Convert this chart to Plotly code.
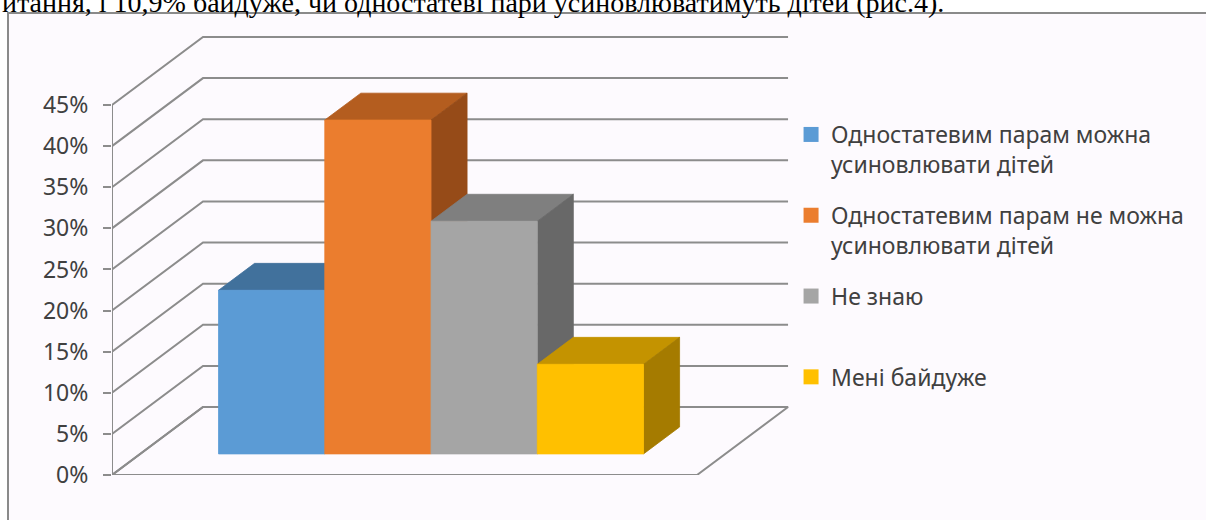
import plotly.graph_objects as go

# ---------------- data ----------------
categories = [
    "Одностатевим парам можна усиновлювати дітей",
    "Одностатевим парам не можна усиновлювати дітей",
    "Не знаю",
    "Мені байдуже",
]
legend_labels = [
    "Одностатевим парам можна<br>усиновлювати дітей",
    "Одностатевим парам не можна<br>усиновлювати дітей",
    "Не знаю<br>\u00a0",
    "Мені байдуже",
]
values = [19.9, 40.6, 28.3, 10.9]          # percent
tick_values = [0, 5, 10, 15, 20, 25, 30, 35, 40, 45]
tick_labels = ["0%", "5%", "10%", "15%", "20%", "25%", "30%", "35%", "40%", "45%"]

front_colors = ["#5B9BD5", "#EB7D2E", "#A5A5A5", "#FFC000"]
top_colors = ["#41719C", "#B45D1F", "#7F7F7F", "#C49300"]
side_colors = ["#2F5F8B", "#964B18", "#686868", "#A57B00"]

caption = "итання, і 10,9% байдуже, чи одностатеві пари усиновлюватимуть дітей (рис.4)."

# ---------------- 3D (oblique) geometry, in axis units ----------------
DEPTH_X = 0.8565     # full depth shift along x (category units)
DEPTH_Y = 8.27       # full depth shift along y (percent units)
FLOOR_W = 5.506      # width of the floor / walls
BAR_START = 0.737
BAR_W = 1.0
F0, F1 = 0.31, 0.706  # bar front / back depth fractions

GRID = "#8C8C8C"
FONT = "Noto Sans"


def proj(x, y, f):
    return x + f * DEPTH_X, y + f * DEPTH_Y


def poly(points):
    xs, ys = [], []
    for p in points + [points[0]]:
        px, py = proj(*p)
        xs.append(px)
        ys.append(py)
    return xs, ys


fig = go.Figure()

# gridlines: oblique from the front axis, then along the back wall
gx, gy = [], []
for v in tick_values:
    gx += [0, DEPTH_X, FLOOR_W + DEPTH_X, None]
    gy += [v, v + DEPTH_Y, v + DEPTH_Y, None]
fig.add_trace(go.Scatter(x=gx, y=gy, mode="lines", line=dict(color=GRID, width=2),
                         hoverinfo="skip", showlegend=False))

# floor
fx, fy = poly([(0, 0, 0), (FLOOR_W, 0, 0), (FLOOR_W, 0, 1), (0, 0, 1)])
fig.add_trace(go.Scatter(x=fx, y=fy, mode="lines", line=dict(color=GRID, width=2),
                         hoverinfo="skip", showlegend=False))

# front value axis line
fig.add_trace(go.Scatter(x=[0, 0], y=[0, max(tick_values)], mode="lines",
                         line=dict(color=GRID, width=2), hoverinfo="skip", showlegend=False))

# bars (drawn left to right so later bars cover earlier side faces)
for i, v in enumerate(values):
    x0 = BAR_START + i * BAR_W
    x1 = x0 + BAR_W
    faces = [
        ([(x0, v, F0), (x1, v, F0), (x1, v, F1), (x0, v, F1)], top_colors[i]),
        ([(x1, 0, F0), (x1, 0, F1), (x1, v, F1), (x1, v, F0)], side_colors[i]),
        ([(x0, 0, F0), (x1, 0, F0), (x1, v, F0), (x0, v, F0)], front_colors[i]),
    ]
    for pts, col in faces:
        px, py = poly(pts)
        fig.add_trace(go.Scatter(x=px, y=py, mode="lines", fill="toself", fillcolor=col,
                                 line=dict(color=col, width=0.8), hoverinfo="skip",
                                 showlegend=False, name=categories[i]))

# legend entries
for i, lab in enumerate(legend_labels):
    fig.add_trace(go.Scatter(x=[None], y=[None], mode="markers", name=lab,
                             legendgroup=str(i),
                             marker=dict(symbol="square", size=15, color=front_colors[i])))

fig.update_layout(
    width=1206, height=520,
    margin=dict(l=112, r=406, t=30, b=45),
    paper_bgcolor="white",
    plot_bgcolor="rgba(0,0,0,0)",
    xaxis=dict(range=[0, 6.475], visible=False, fixedrange=True),
    yaxis=dict(range=[0, 54.12], tickvals=tick_values, ticktext=tick_labels,
               ticks="outside", ticklen=8, tickwidth=2, tickcolor=GRID,
               showgrid=False, zeroline=False, showline=False,
               tickfont=dict(family=FONT, size=23, color="#404040"),
               ticklabelstandoff=10, fixedrange=True),
    legend=dict(x=0.987, xanchor="left", y=0.8135, yanchor="top", valign="top",
                tracegroupgap=18, bgcolor="rgba(0,0,0,0)",
                font=dict(family=FONT, size=23, color="#404040")),
    shapes=[dict(type="rect", xref="paper", yref="paper",
                 x0=(8 - 112) / 688, x1=1.8, y0=-0.3, y1=(475 - 13) / 445,
                 fillcolor="#FDFAFE", line=dict(color="#8A8A8A", width=2), layer="below")],
    annotations=[dict(text=caption, xref="paper", yref="paper",
                      x=(0 - 112) / 688, xanchor="left", y=(475 - 2) / 445, yanchor="middle",
                      showarrow=False,
                      font=dict(family="Liberation Serif", size=28, color="black"))],
    showlegend=True,
)

fig.write_html("out.html",
               config={"displayModeBar": False, "staticPlot": False},
               post_script="document.body.style.margin='0';document.body.style.overflow='hidden';")
